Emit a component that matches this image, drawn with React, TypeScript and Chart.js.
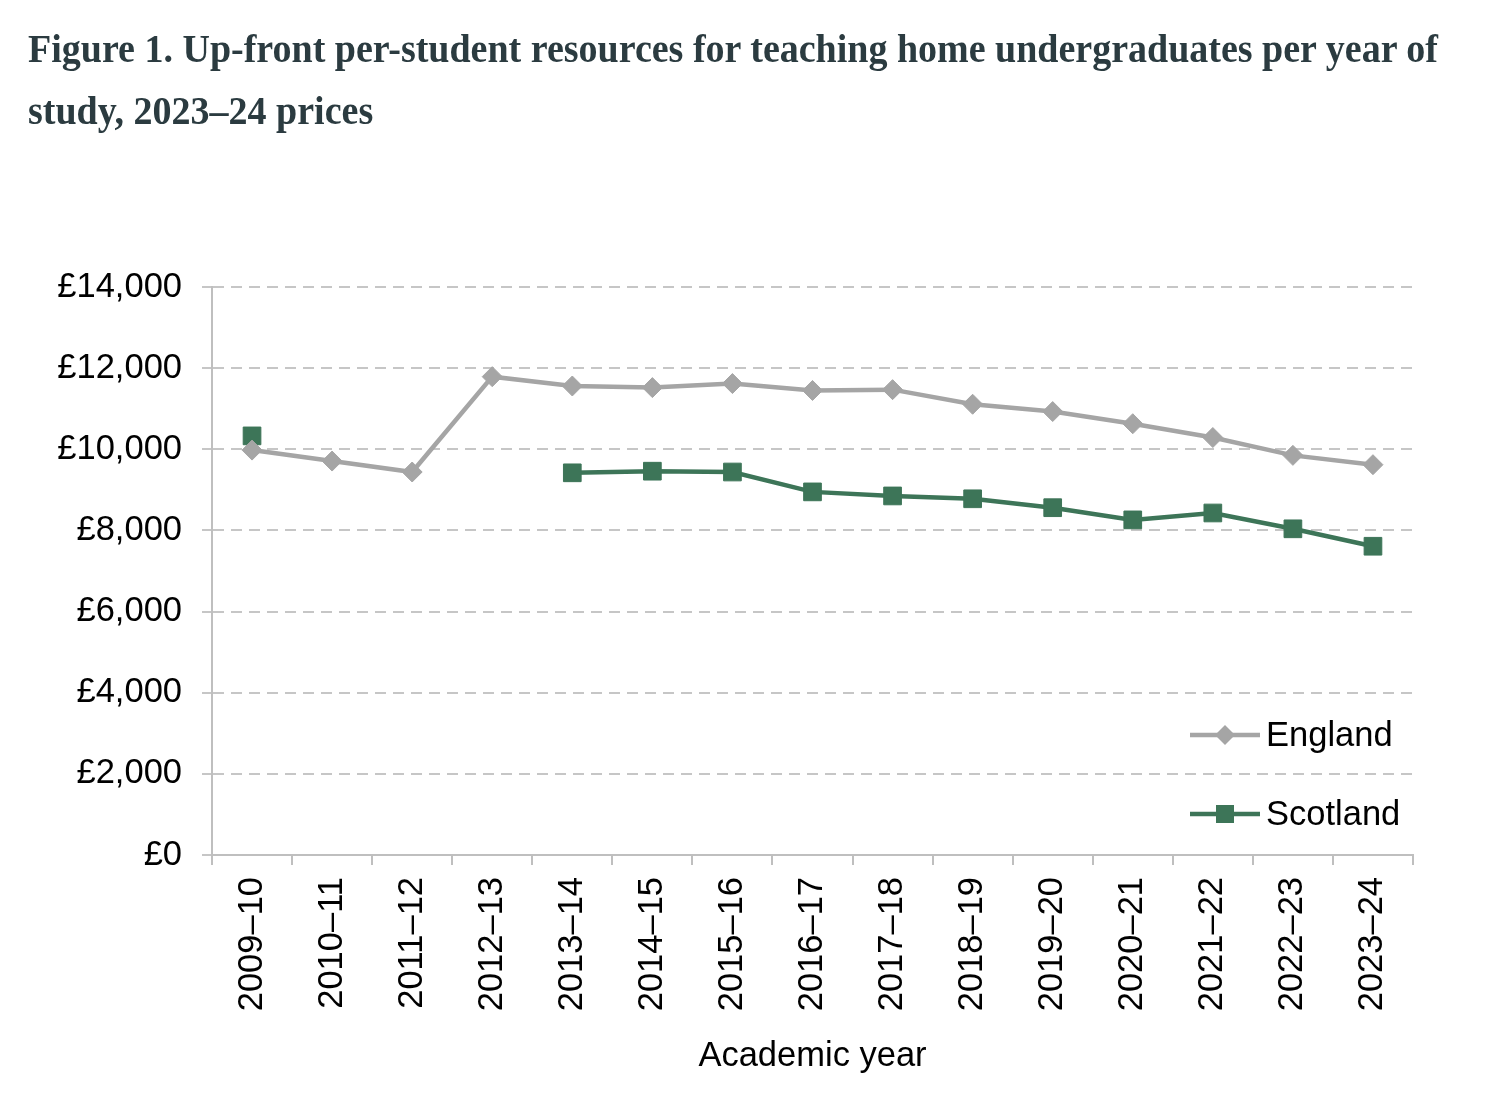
import React, { useEffect, useLayoutEffect, useRef } from "react";
import { Chart, registerables } from "chart.js";

Chart.register(...registerables);

const categories = [
  "2009–10", "2010–11", "2011–12", "2012–13", "2013–14", "2014–15", "2015–16",
  "2016–17", "2017–18", "2018–19", "2019–20", "2020–21", "2021–22", "2022–23", "2023–24",
];

const englandValues = [
  9980, 9710, 9440, 11790, 11560, 11520, 11620, 11450, 11470, 11110, 10930, 10630, 10290, 9850, 9620,
];

const scotlandValues: (number | null)[] = [
  10330, null, null, null, 9420, 9460, 9440, 8950, 8850, 8780, 8560, 8260, 8430, 8040, 7610,
];

const yTicks = [0, 2000, 4000, 6000, 8000, 10000, 12000, 14000];

const titleLines = [
  "Figure 1. Up-front per-student resources for teaching home undergraduates per year of",
  "study, 2023–24 prices",
];

const ENGLAND_COLOR = "#a5a5a5";
const SCOTLAND_COLOR = "#3d7558";
const AXIS_FONT = "'Liberation Sans', Arial, sans-serif";
const FONT_SIZE = 34.5;

const legendPlugin = {
  id: "insideLegend",
  afterDraw(chart: any) {
    const { ctx, chartArea } = chart;
    const items = [
      { label: "England", color: ENGLAND_COLOR, style: "diamond", dy: 120 },
      { label: "Scotland", color: SCOTLAND_COLOR, style: "square", dy: 41 },
    ];
    ctx.save();
    items.forEach((it) => {
      const y = chartArea.bottom - it.dy;
      const x0 = chartArea.left + 978;
      const x1 = chartArea.left + 1048;
      const cx = (x0 + x1) / 2;
      ctx.strokeStyle = it.color;
      ctx.lineWidth = 4.5;
      ctx.beginPath();
      ctx.moveTo(x0, y);
      ctx.lineTo(x1, y);
      ctx.stroke();
      ctx.fillStyle = it.color;
      ctx.beginPath();
      if (it.style === "diamond") {
        const r = 10;
        ctx.moveTo(cx - r, y);
        ctx.lineTo(cx, y - r);
        ctx.lineTo(cx + r, y);
        ctx.lineTo(cx, y + r);
        ctx.closePath();
      } else {
        const s = 9;
        ctx.rect(cx - s, y - s, 2 * s, 2 * s);
      }
      ctx.fill();
      ctx.fillStyle = "#000";
      ctx.font = `${FONT_SIZE}px ${AXIS_FONT}`;
      ctx.textAlign = "left";
      ctx.textBaseline = "middle";
      ctx.fillText(it.label, chartArea.left + 1054, y + 1);
    });
    ctx.restore();
  },
};

export default function App() {
  const canvasRef = useRef<HTMLCanvasElement | null>(null);
  const line1Ref = useRef<HTMLSpanElement | null>(null);
  const line2Ref = useRef<HTMLSpanElement | null>(null);

  useLayoutEffect(() => {
    const l1 = line1Ref.current;
    const l2 = line2Ref.current;
    if (!l1 || !l2) return;
    const w = l1.getBoundingClientRect().width;
    if (w > 0) {
      const k = 1410 / w;
      l1.style.transform = `scaleX(${k})`;
      l2.style.transform = `scaleX(${k})`;
    }
  }, []);

  useEffect(() => {
    if (!canvasRef.current) return;
    const chart = new Chart(canvasRef.current, {
      type: "line",
      data: {
        labels: categories,
        datasets: [
          {
            label: "England",
            data: englandValues,
            borderColor: ENGLAND_COLOR,
            backgroundColor: ENGLAND_COLOR,
            borderWidth: 4.5,
            pointStyle: "rectRot",
            pointRadius: 10,
            pointBorderWidth: 1,
            pointBackgroundColor: ENGLAND_COLOR,
            pointBorderColor: ENGLAND_COLOR,
            tension: 0,
          },
          {
            label: "Scotland",
            data: scotlandValues,
            borderColor: SCOTLAND_COLOR,
            backgroundColor: SCOTLAND_COLOR,
            borderWidth: 4.5,
            pointStyle: "rect",
            pointRadius: 12.5,
            pointBorderWidth: 1,
            pointBackgroundColor: SCOTLAND_COLOR,
            pointBorderColor: SCOTLAND_COLOR,
            spanGaps: false,
            tension: 0,
          },
        ],
      },
      options: {
        animation: false,
        responsive: true,
        maintainAspectRatio: false,
        layout: { padding: { top: 279, right: 81, left: 0, bottom: 0 } },
        plugins: {
          legend: { display: false },
          tooltip: { enabled: false },
          title: { display: false },
        },
        scales: {
          x: {
            type: "category",
            offset: true,
            grid: {
              offset: true,
              drawOnChartArea: false,
              drawTicks: true,
              tickLength: 10,
              color: "#bfbfbf",
              lineWidth: 2,
            },
            border: { display: true, color: "#bfbfbf", width: 2 },
            ticks: {
              minRotation: 90,
              maxRotation: 90,
              autoSkip: false,
              padding: 12,
              color: "#000",
              font: { family: AXIS_FONT, size: FONT_SIZE },
            },
            title: {
              display: true,
              text: "Academic year",
              color: "#000",
              font: { family: AXIS_FONT, size: FONT_SIZE },
              padding: { top: 0, bottom: 35 },
            },
            afterFit: (s: any) => {
              s.height = 257;
            },
          },
          y: {
            min: 0,
            max: 14000,
            afterBuildTicks: (s: any) => {
              s.ticks = yTicks.map((v) => ({ value: v }));
            },
            ticks: {
              padding: 20,
              color: "#000",
              font: { family: AXIS_FONT, size: FONT_SIZE },
              callback: (v: any) => "£" + Number(v).toLocaleString("en-GB"),
            },
            grid: {
              color: "#c6c6c6",
              lineWidth: 2,
              tickLength: 10,
              tickColor: "#c6c6c6",
            },
            border: { display: true, color: "#bfbfbf", width: 2, dash: [11, 7] },
            afterFit: (s: any) => {
              s.width = 204;
            },
          },
        },
      },
      plugins: [legendPlugin],
    });
    return () => chart.destroy();
  }, []);

  const titleLineStyle: React.CSSProperties = {
    display: "inline-block",
    whiteSpace: "nowrap",
    transformOrigin: "left center",
  };

  return (
    <div style={{ position: "relative", width: 1486, height: 1104 }}>
      <canvas ref={canvasRef} style={{ position: "absolute", left: 0, top: 0, width: "100%", height: "100%" }} />
      <div
        style={{
          position: "absolute",
          left: 20,
          top: 10,
          fontFamily: "'Liberation Serif', 'Times New Roman', serif",
          fontWeight: "bold",
          fontSize: 39,
          lineHeight: "62px",
          color: "#2b3b40",
        }}
      >
        <div><span ref={line1Ref} style={titleLineStyle}>{titleLines[0]}</span></div>
        <div><span ref={line2Ref} style={titleLineStyle}>{titleLines[1]}</span></div>
      </div>
    </div>
  );
}
